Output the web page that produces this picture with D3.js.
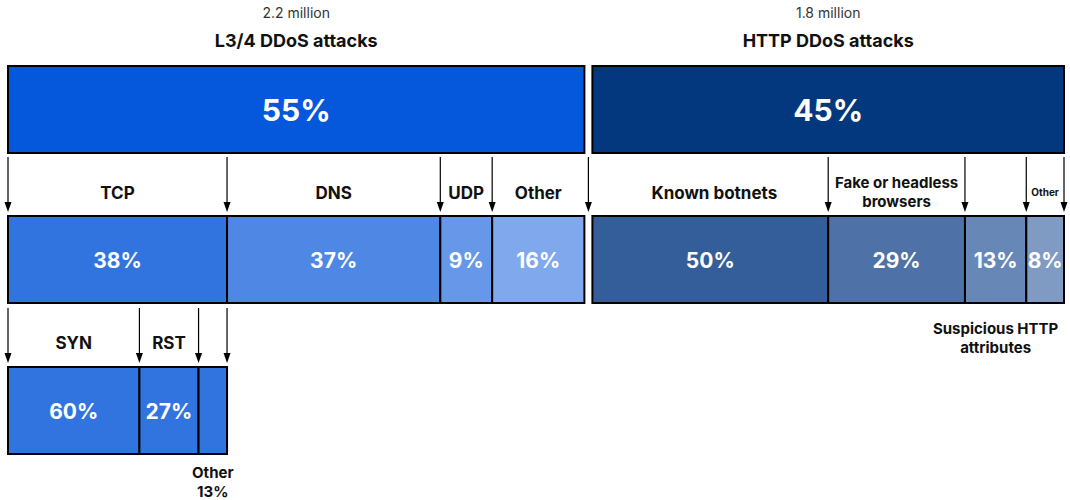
<!DOCTYPE html>
<html>
<head>
<meta charset="utf-8">
<script src="https://cdn.jsdelivr.net/npm/d3@7"></script>
<style>
  html, body { margin: 0; padding: 0; background: #fff; }
  svg { display: block; font-family: Inter, "Noto Sans", sans-serif; }
</style>
</head>
<body>
<svg id="chart" width="1070" height="500"></svg>
<script>
// Attack type breakdown
const attackGroups = ["L3/4 DDoS attacks", "HTTP DDoS attacks"];
const attackTotals = ["2.2 million", "1.8 million"];
const attackShares = [55, 45];

const l34Categories = ["TCP", "DNS", "UDP", "Other"];
const l34Shares = [38, 37, 9, 16];

const httpCategories = ["Known botnets", "Fake or headless browsers", "Suspicious HTTP attributes", "Other"];
const httpShares = [50, 29, 13, 8];

const tcpCategories = ["SYN", "RST", "Other"];
const tcpShares = [60, 27, 13];

const svg = d3.select("#chart");

const topColors = ["#0558db", "#03387f"];
const l34Colors = ["#3174e0", "#4e88e4", "#6797e8", "#80a8ec"];
const httpColors = ["#345e9a", "#4e72a8", "#6788b7", "#7f9ac3"];
const tcpColor = "#3174e0";

const rowTop = [66, 216, 367];
const rowH = 87;
const gap = 8;

// Top row: share of the two attack families
const xTop = d3.scaleLinear().domain([0, 100]).range([8, 1064 - gap]);
const topSegs = [];
let acc = 0;
attackShares.forEach((v, i) => {
  const x0 = xTop(acc) + (i > 0 ? gap : 0);
  const x1 = xTop(acc + v) + (i > 0 ? gap : 0);
  topSegs.push({ name: attackGroups[i], total: attackTotals[i], value: v, x0, x1, color: topColors[i] });
  acc += v;
});

const topG = svg.append("g");
topG.selectAll("rect").data(topSegs).join("rect")
  .attr("x", d => d.x0).attr("y", rowTop[0])
  .attr("width", d => d.x1 - d.x0).attr("height", rowH)
  .attr("fill", d => d.color).attr("stroke", "#000").attr("stroke-width", 2);
topG.selectAll("text.pct").data(topSegs).join("text")
  .attr("class", "pct")
  .attr("x", d => (d.x0 + d.x1) / 2).attr("y", rowTop[0] + rowH / 2 + 11)
  .attr("text-anchor", "middle").attr("fill", "#fff")
  .attr("font-size", 30).attr("font-weight", 700)
  .text(d => d.value + "%");
topG.selectAll("text.total").data(topSegs).join("text")
  .attr("class", "total")
  .attr("x", d => (d.x0 + d.x1) / 2).attr("y", 18)
  .attr("text-anchor", "middle").attr("fill", "#333")
  .attr("font-size", 14).attr("font-weight", 400)
  .text(d => d.total);
topG.selectAll("text.title").data(topSegs).join("text")
  .attr("class", "title")
  .attr("x", d => (d.x0 + d.x1) / 2).attr("y", 47)
  .attr("text-anchor", "middle").attr("fill", "#111")
  .attr("font-size", 18).attr("font-weight", 700)
  .text(d => d.name);

// Helper: stacked row of segments inside [x0, x1]
function buildRow(cats, shares, x0, x1, colors) {
  const x = d3.scaleLinear().domain([0, 100]).range([x0, x1]);
  let c = 0;
  return cats.map((name, i) => {
    const s = { name, value: shares[i], x0: x(c), x1: x(c + shares[i]), color: colors[i] };
    c += shares[i];
    return s;
  });
}

function drawRow(segs, top, pctSize) {
  const g = svg.append("g");
  g.selectAll("rect").data(segs).join("rect")
    .attr("x", d => d.x0).attr("y", top)
    .attr("width", d => d.x1 - d.x0).attr("height", rowH)
    .attr("fill", d => d.color).attr("stroke", "#000").attr("stroke-width", 2);
  g.selectAll("text.pct").data(segs.filter(d => d.showPct !== false)).join("text")
    .attr("class", "pct")
    .attr("x", d => (d.x0 + d.x1) / 2).attr("y", top + rowH / 2 + 8)
    .attr("text-anchor", "middle").attr("fill", "#fff")
    .attr("font-size", pctSize).attr("font-weight", 700)
    .text(d => d.value + "%");
  return g;
}

// Downward arrows: a thin shaft and a filled triangular head
function drawArrows(xs, yStart, yEnd) {
  const g = svg.append("g");
  g.selectAll("line").data(xs).join("line")
    .attr("x1", d => d).attr("x2", d => d)
    .attr("y1", yStart).attr("y2", yEnd - 8)
    .attr("stroke", "#000").attr("stroke-width", 1.2);
  g.selectAll("path").data(xs).join("path")
    .attr("d", d => `M${d - 3.5},${yEnd - 10} L${d + 3.5},${yEnd - 10} L${d},${yEnd} Z`)
    .attr("fill", "#000");
}

function label(x, y, lines, size, weight) {
  const t = svg.append("text")
    .attr("x", x).attr("y", y)
    .attr("text-anchor", "middle").attr("fill", "#111")
    .attr("font-size", size).attr("font-weight", weight || 700);
  lines.forEach((ln, i) => {
    t.append("tspan").attr("x", x).attr("dy", i === 0 ? 0 : size * 1.25).text(ln);
  });
}

// Second row: L3/4 breakdown
const l34 = buildRow(l34Categories, l34Shares, topSegs[0].x0, topSegs[0].x1, l34Colors);
drawRow(l34, rowTop[1], 21);
drawArrows(
  [...l34.map(d => d.x0), l34[l34.length - 1].x1 + 4],
  rowTop[0] + rowH + 4, rowTop[1] - 4
);
l34.forEach(d => label((d.x0 + d.x1) / 2, rowTop[1] - 17, [d.name], 17));

// Second row: HTTP breakdown
const http = buildRow(httpCategories, httpShares, topSegs[1].x0, topSegs[1].x1, httpColors);
drawRow(http, rowTop[1], 21);
drawArrows(http.map(d => d.x1), rowTop[0] + rowH + 4, rowTop[1] - 4);
label((http[0].x0 + http[0].x1) / 2 + 4, rowTop[1] - 17, [http[0].name], 17);
label((http[1].x0 + http[1].x1) / 2, rowTop[1] - 28, ["Fake or headless", "browsers"], 15);
label((http[2].x0 + http[2].x1) / 2, rowTop[1] + rowH + 31, ["Suspicious HTTP", "attributes"], 15);
label((http[3].x0 + http[3].x1) / 2, rowTop[1] - 20, [http[3].name], 10);

// Third row: TCP breakdown
const tcp = buildRow(tcpCategories, tcpShares, l34[0].x0, l34[0].x1, tcpCategories.map(() => tcpColor));
tcp[2].showPct = false;
drawRow(tcp, rowTop[2], 21);
drawArrows([...tcp.map(d => d.x0), tcp[tcp.length - 1].x1], rowTop[1] + rowH + 5, rowTop[2] - 4);
label((tcp[0].x0 + tcp[0].x1) / 2, rowTop[2] - 18, [tcp[0].name], 17);
label((tcp[1].x0 + tcp[1].x1) / 2, rowTop[2] - 18, [tcp[1].name], 17);
label((tcp[2].x0 + tcp[2].x1) / 2, rowTop[2] + rowH + 24, [tcp[2].name, tcp[2].value + "%"], 15);
</script>
</body>
</html>
